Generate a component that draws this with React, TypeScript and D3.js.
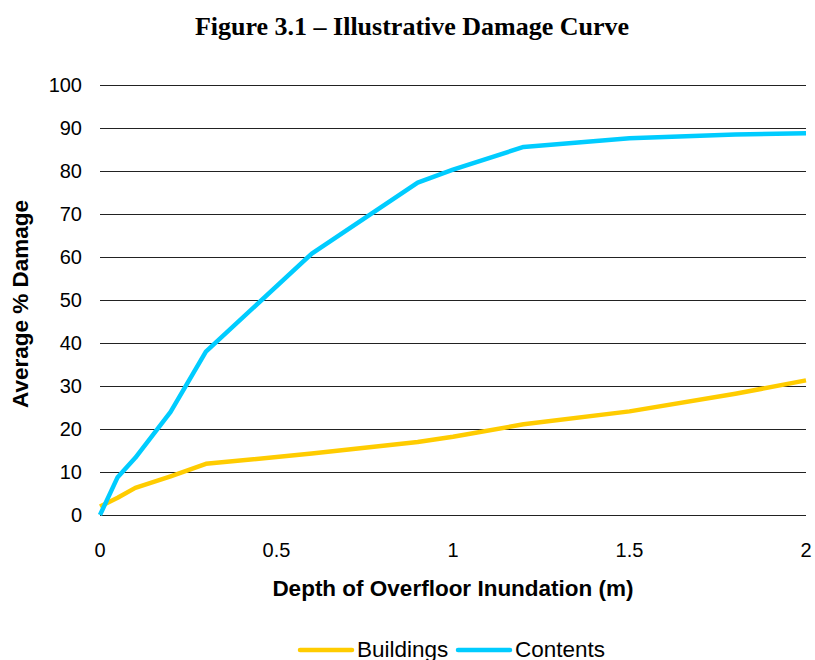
import React from "react";
import * as d3 from "d3";

const depths = [0, 0.05, 0.1, 0.2, 0.3, 0.6, 0.9, 1.0, 1.2, 1.5, 1.8, 2.0];
const buildings = [2.0, 4.0, 6.3, 9.0, 11.9, 14.3, 17.0, 18.2, 21.1, 24.1, 28.2, 31.3];
const contents = [0, 8.8, 13.3, 24.0, 38.0, 60.8, 77.3, 80.3, 85.6, 87.6, 88.5, 88.8];
const yTicks = [0, 10, 20, 30, 40, 50, 60, 70, 80, 90, 100];
const xTicks = [0, 0.5, 1, 1.5, 2];
const seriesNames = ["Buildings", "Contents"];
const seriesColors = ["#FFCC00", "#00CCFF"];

export default function App() {
  const W = 815, H = 660;
  const x = d3.scaleLinear().domain([0, 2]).range([100, 806]);
  const y = d3.scaleLinear().domain([0, 100]).range([515, 85]);
  const line = d3.line<[number, number]>().x(d => x(d[0])).y(d => y(d[1]));
  const series = [buildings, contents];
  const sans = "Liberation Sans, Arial, Helvetica, sans-serif";
  return (
    <svg width={W} height={H} style={{ position: "absolute", left: 0, top: 0, background: "#fff" }}>
      <text x={412} y={35} textAnchor="middle" fontFamily="Liberation Serif, Times New Roman, serif" fontWeight="bold" fontSize={26}>
        Figure 3.1 – Illustrative Damage Curve
      </text>
      {yTicks.map(t => (
        <g key={t}>
          <line x1={100} x2={806} y1={Math.round(y(t)) + 0.5} y2={Math.round(y(t)) + 0.5} stroke="#222" strokeWidth={1} />
          <text x={82} y={y(t)} dy="0.35em" textAnchor="end" fontFamily={sans} fontSize={20} fill="#000">{t}</text>
        </g>
      ))}
      {xTicks.map(t => (
        <text key={t} x={x(t)} y={557} textAnchor="middle" fontFamily={sans} fontSize={20} fill="#000">{t}</text>
      ))}
      {series.map((s, i) => (
        <path key={i} d={line(depths.map((d, j) => [d, s[j]]) as [number, number][]) || ""} fill="none" stroke={seriesColors[i]} strokeWidth={4.5} strokeLinejoin="round" />
      ))}
      <text x={453} y={596} textAnchor="middle" fontFamily={sans} fontWeight="bold" fontSize={22.5}>
        Depth of Overfloor Inundation (m)
      </text>
      <text transform="translate(28,304) rotate(-90)" textAnchor="middle" fontFamily={sans} fontWeight="bold" fontSize={22.5}>
        Average % Damage
      </text>
      {seriesNames.map((n, i) => {
        const lx = i === 0 ? 300 : 458;
        return (
          <g key={n}>
            <line x1={lx} x2={lx + 52} y1={650} y2={650} stroke={seriesColors[i]} strokeWidth={4.5} strokeLinecap="round" />
            <text x={lx + 57} y={657} fontFamily={sans} fontSize={22.5} fill="#000">{n}</text>
          </g>
        );
      })}
    </svg>
  );
}
